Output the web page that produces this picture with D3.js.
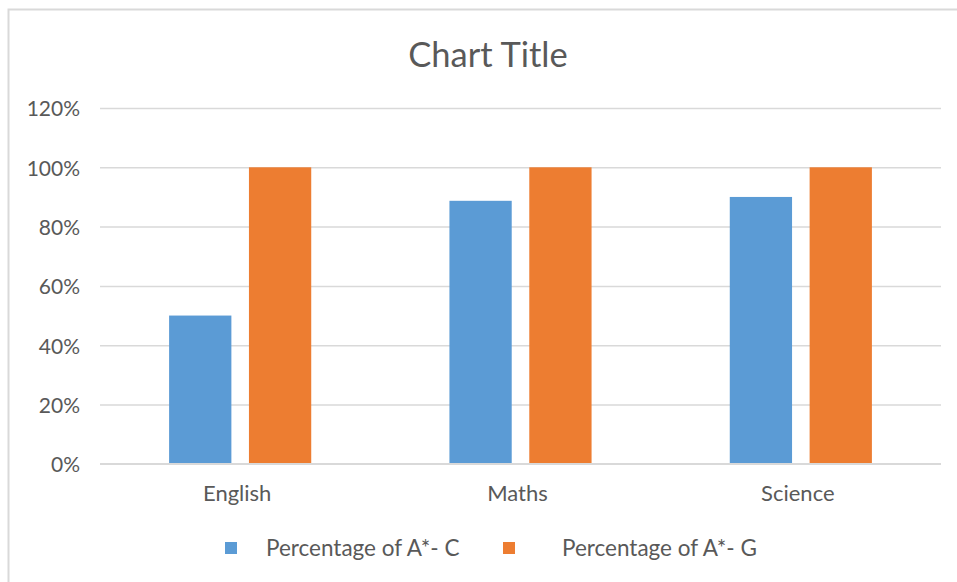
<!DOCTYPE html>
<html>
<head>
<meta charset="utf-8">
<script src="https://cdn.jsdelivr.net/npm/d3@7"></script>
<style>
  html, body { margin: 0; padding: 0; background: #fff; }
  svg { display: block; }
  text { font-family: Lato, "Open Sans", sans-serif; fill: #595959; }
</style>
</head>
<body>
<svg id="chart" width="957" height="582"></svg>
<script>
const categories = ["English", "Maths", "Science"];
const seriesNames = ["Percentage of A*- C", "Percentage of A*- G"];
const seriesAC = [0.50, 0.887, 0.90];
const seriesAG = [1.00, 1.00, 1.00];
const yTicks = [0, 0.2, 0.4, 0.6, 0.8, 1.0, 1.2];
const colors = ["#5B9BD5", "#ED7D31"];
const title = "Chart Title";

const svg = d3.select("#chart");

// chart border (extends past the right and bottom edges)
svg.append("rect")
  .attr("x", 8.5).attr("y", 9.5)
  .attr("width", 1200).attr("height", 1200)
  .attr("fill", "#fff")
  .attr("stroke", "#D9D9D9").attr("stroke-width", 2);

const plot = { left: 100, right: 941, top: 108, bottom: 463.8 };

const y = d3.scaleLinear().domain([0, 1.2]).range([plot.bottom, plot.top]);
const x0 = d3.scaleBand().domain(categories).range([plot.left, plot.right])
  .paddingInner(0.493).paddingOuter(0.2465);
const x1 = d3.scaleBand().domain(seriesNames).range([0, x0.bandwidth()])
  .paddingInner(0.22).paddingOuter(0);

// gridlines via axis
const yAxis = d3.axisLeft(y).tickValues(yTicks)
  .tickSize(-(plot.right - plot.left))
  .tickFormat(d3.format(".0%"))
  .tickPadding(20);
const gy = svg.append("g").attr("transform", `translate(${plot.left},0)`).call(yAxis);
gy.select(".domain").remove();
gy.selectAll(".tick line").attr("stroke", "#D9D9D9").attr("stroke-width", 1.5);
gy.selectAll(".tick text")
  .style("font-size", "21px").attr("fill", "#595959").attr("dy", "0.38em");

// bars
const data = categories.map((c, i) => ({ cat: c, vals: [seriesAC[i], seriesAG[i]] }));
const groups = svg.append("g").selectAll("g").data(data).join("g")
  .attr("transform", d => `translate(${x0(d.cat)},0)`);
groups.selectAll("rect")
  .data(d => d.vals.map((v, k) => ({ name: seriesNames[k], v, k })))
  .join("rect")
  .attr("x", d => x1(d.name))
  .attr("y", d => y(d.v))
  .attr("width", x1.bandwidth())
  .attr("height", d => y(0) - y(d.v))
  .attr("fill", d => colors[d.k]);

// x axis (baseline + labels)
const xAxis = d3.axisBottom(x0).tickSize(0).tickPadding(22);
const gx = svg.append("g").attr("transform", `translate(0,${plot.bottom})`).call(xAxis);
gx.select(".domain").attr("stroke", "#D9D9D9").attr("stroke-width", 1.5)
  .attr("d", `M${plot.left},0H${plot.right}`);
gx.selectAll(".tick text").style("font-size", "22px").attr("fill", "#595959")
  .attr("dx", "-3");

// title
svg.append("text").attr("x", 488).attr("y", 67)
  .attr("text-anchor", "middle").style("font-size", "34.5px").text(title);

// legend
const legendItems = [
  { name: seriesNames[0], color: colors[0], sx: 225, tx: 266 },
  { name: seriesNames[1], color: colors[1], sx: 503, tx: 562 }
];
const lg = svg.append("g");
legendItems.forEach(it => {
  lg.append("rect").attr("x", it.sx).attr("y", 542).attr("width", 12).attr("height", 12)
    .attr("fill", it.color);
  lg.append("text").attr("x", it.tx).attr("y", 548).attr("dy", "0.36em")
    .style("font-size", "22.5px").text(it.name);
});
</script>
</body>
</html>
